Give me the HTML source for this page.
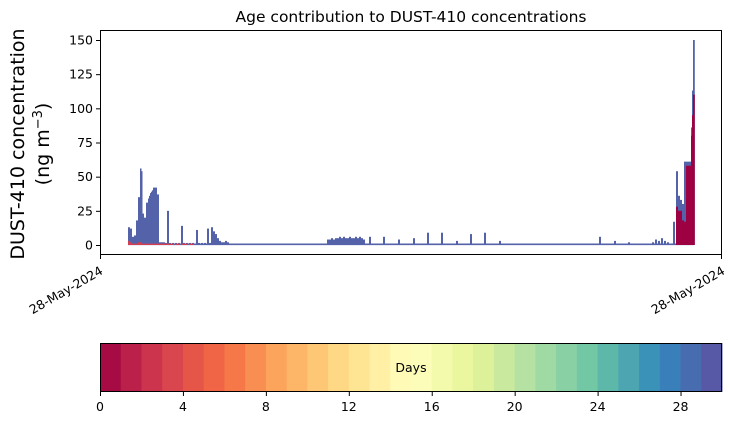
<!DOCTYPE html>
<html><head><meta charset="utf-8"><style>
body{margin:0;background:#fff;font-family:"DejaVu Sans",sans-serif}
svg text{font-family:"DejaVu Sans",sans-serif}
</style></head><body>
<svg id="c" width="730" height="425" xmlns="http://www.w3.org/2000/svg">
<rect width="730" height="425" fill="#fff"/>
<text x="411" y="22" font-size="15.5" text-anchor="middle">Age contribution to DUST-410 concentrations</text>
<g id="plot"></g>
<rect x="100.5" y="30.5" width="621" height="224" fill="none" stroke="#000" stroke-width="1"/>
<g id="yaxis"></g>
<text transform="translate(24,144) rotate(-90)" font-size="19" text-anchor="middle">DUST-410 concentration</text>
<text transform="translate(49,144) rotate(-90)" font-size="19" text-anchor="middle">(ng m<tspan dy="-7" font-size="13">−3</tspan><tspan dy="7">)</tspan></text>
<g>
<line x1="100.5" y1="255" x2="100.5" y2="259" stroke="#000"/>
<line x1="721.5" y1="255" x2="721.5" y2="259" stroke="#000"/>
<text transform="translate(99,265) rotate(-30)" font-size="12.5" text-anchor="end" dominant-baseline="hanging">28-May-2024</text>
<text transform="translate(721,265) rotate(-30)" font-size="12.5" text-anchor="end" dominant-baseline="hanging">28-May-2024</text>
</g>
<g id="cbar"></g>
</svg>
<script>
const times=[28,30,32,34,36,38,40,41,42,44,46,48,49,50,51,52,53,55,57,59,61,63,65,67,69,72,75,78,81,83,86,89,92,96,98,101,104,107,109,111,113,115,117,119,121,123,125,127,129,227,229,231,233,235,237,239,241,243,245,247,249,251,253,255,257,259,261,263,269,283,298,313,327,341,356,370,384,399,471,485,490,499,514,528,545,552,555,558,561,564,567,573,576,578,580,582,584,586,588,590,591,592,593];
const total=[13,12,6,7,18,35,56,54,23,20,31,34,36,38,39,40,42,42,37,2,2,2,1.5,25,1.5,1.5,1.5,1.5,14,1.5,1.5,1.5,1.5,11,1.5,1.5,1.5,12,1.5,13,10,8,5,3,2,2,3,2,1,4,4,5,4,5,5,6,5,6,5,5,6,5,5,6,5,6,5,4,6,6,4,5,9,9,3,8,9,3,1,1,1,6,3,2,1,2,4,3,5,3,2,17,54,36,33,30,61,61,61,61,86,113,150];
const red=[3,2,1,1,1,2,2,2,1,1,1,1,1,1,1,1,1,1,1,1,1,1,1,1,1,1,1,1,1,1,1,1,1,0,0,0,0,0,0,0,0,0,0,0,0,0,0,0,0,0,0,0,0,0,0,0,0,0,0,0,0,0,0,0,0,0,0,0,0,0,0,0,0,0,0,0,0,0,0,0,0,0,0,0,0,0,0,0,0,0,0,0,28,25,25,18,17,58,58,58,80,95,110];
const yTicks=[0,25,50,75,100,125,150];
const cbTicks=[0,4,8,12,16,20,24,28];
const NS="http://www.w3.org/2000/svg";
const X=t=>100+t, Y=v=>245-v*205/150;
const plot=document.getElementById('plot');
function mk(tag,a,p){const e=document.createElementNS(NS,tag);for(const k in a)e.setAttribute(k,a[k]);p.appendChild(e);return e;}
const bl=mk('line',{x1:X(28),x2:X(594),y1:Y(0.5),y2:Y(0.5),stroke:'#5462aa','stroke-width':1.6},plot);


for(let i=0;i<times.length;i++){
  const x0=X(times[i]);
  const w=i<times.length-1?Math.max(1.5,Math.min(2,X(times[i+1])-x0)):1.8;
  const b=mk('rect',{x:x0,y:Y(total[i]),width:w,height:Math.max(0,Y(0)-Y(total[i])),fill:'#5462aa'},plot);
  
  
  if(red[i]>0){
    const r=mk('rect',{x:x0,y:Y(red[i]),width:w,height:Y(0)-Y(red[i]),fill:red[i]>5?'#9e0142':'#d53e4f'},plot);
    
    
  }
}
const ya=document.getElementById('yaxis');
yTicks.forEach(v=>{
  mk('line',{x1:96,x2:100,y1:Y(v)+.5,y2:Y(v)+.5,stroke:'#000'},ya);
  const t=mk('text',{x:93,y:Y(v)+4.5,'font-size':12.5,'text-anchor':'end'},ya);t.textContent=v;
  
  
});
const sp=['#9e0142','#d53e4f','#f46d43','#fdae61','#fee08b','#ffffbf','#e6f598','#abdda4','#66c2a5','#3288bd','#5e4fa2'];
function h2r(h){return [1,3,5].map(i=>parseInt(h.substr(i,2),16));}
function cm(f){const p=f*10,i=Math.min(9,Math.floor(p)),u=p-i,a=h2r(sp[i]),b=h2r(sp[i+1]);return 'rgb('+a.map((v,k)=>Math.round(v+(b[k]-v)*u)).join(',')+')';}
const cb=document.getElementById('cbar');
const CX=d=>100+d*622/30;
for(let d=0;d<30;d++){
  const r=mk('rect',{x:CX(d),y:343,width:622/30+0.5,height:49,fill:cm((d+0.5)/30)},cb);
  
  
}
mk('rect',{x:100.5,y:343.5,width:621,height:48,fill:'none',stroke:'#000'},cb);
cbTicks.forEach(v=>{
  mk('line',{x1:CX(v)+.5,x2:CX(v)+.5,y1:392,y2:396,stroke:'#000'},cb);
  const t=mk('text',{x:CX(v),y:411,'font-size':12.5,'text-anchor':'middle'},cb);t.textContent=v;
  
  
});
const dl=mk('text',{x:411,y:372,'font-size':12.5,'text-anchor':'middle'},cb);dl.textContent='Days';


</script>
</body></html>
